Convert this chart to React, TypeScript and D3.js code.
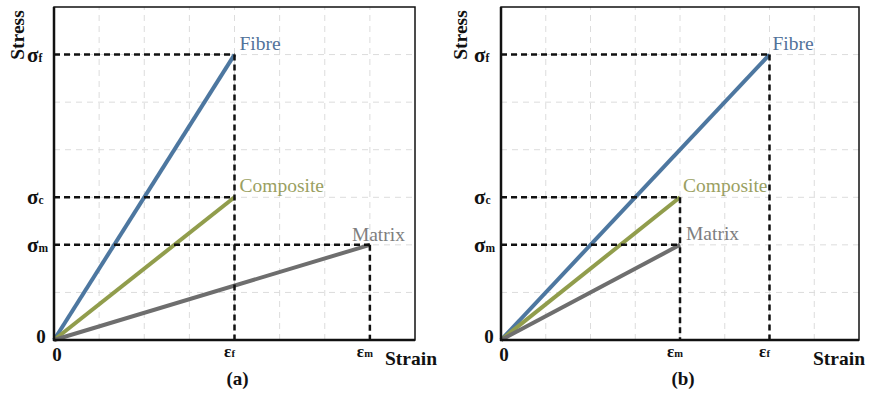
import React from "react";
import * as d3 from "d3";

// Grid extent (strain units × stress units)
const xGridMax = 8;
const yGridMax = 7;

// Panel (a): fibre fails first
const seriesA = [
  { name: "Fibre", strain: 4, stress: 6 },
  { name: "Composite", strain: 4, stress: 3 },
  { name: "Matrix", strain: 7, stress: 2 },
];
// Panel (b): matrix fails first
const seriesB = [
  { name: "Fibre", strain: 6, stress: 6 },
  { name: "Composite", strain: 4, stress: 3 },
  { name: "Matrix", strain: 4, stress: 2 },
];

// Stress ticks
const yTicksA = [
  { sub: "f", value: 6 },
  { sub: "c", value: 3 },
  { sub: "m", value: 2 },
];
const yTicksB = yTicksA;
// Strain ticks
const xTicksA = [
  { sub: "f", value: 4 },
  { sub: "m", value: 7 },
];
const xTicksB = [
  { sub: "m", value: 4 },
  { sub: "f", value: 6 },
];

// Dashed guide lines: horizontal from the axis, vertical down from the point
const guidesA = [
  { strain: 4, stress: 6, vertical: true },
  { strain: 4, stress: 3, vertical: false },
  { strain: 7, stress: 2, vertical: true },
];
const guidesB = [
  { strain: 6, stress: 6, vertical: true },
  { strain: 4, stress: 3, vertical: true },
  { strain: 4, stress: 2, vertical: false },
];

const lineColor: Record<string, string> = {
  Fibre: "#4d77a0",
  Composite: "#919d4c",
  Matrix: "#6e6e6e",
};
const textColor: Record<string, string> = {
  Fibre: "#52739a",
  Composite: "#9a9f62",
  Matrix: "#7e7e7e",
};

const FONT = "'Liberation Serif', 'Times New Roman', serif";

type Series = { name: string; strain: number; stress: number };
type Tick = { sub: string; value: number };
type Guide = { strain: number; stress: number; vertical: boolean };
type LabelPos = Record<string, { dx: number; dy: number }>;

function Panel(props: {
  left: number;
  right: number;
  top: number;
  bottom: number;
  series: Series[];
  yTicks: Tick[];
  xTicks: Tick[];
  guides: Guide[];
  labelPos: LabelPos;
  caption: string;
  stressX: number;
  strainX: number;
  yZeroX: number;
}) {
  const { left, right, top, bottom, series, yTicks, xTicks, guides, labelPos } = props;
  const x = d3.scaleLinear().domain([0, xGridMax]).range([left, right]);
  const y = d3.scaleLinear().domain([0, yGridMax]).range([bottom, top]);
  const line = d3
    .line<[number, number]>()
    .x((d) => x(d[0]))
    .y((d) => y(d[1]));

  return (
    <g>
      {/* grid */}
      {d3.range(1, xGridMax).map((v) => (
        <line
          key={"gx" + v}
          x1={x(v)}
          x2={x(v)}
          y1={y(0)}
          y2={y(yGridMax)}
          stroke="#dcdcdc"
          strokeWidth={1}
          strokeDasharray="6 5"
        />
      ))}
      {d3.range(1, yGridMax).map((v) => (
        <line
          key={"gy" + v}
          x1={x(0)}
          x2={x(xGridMax)}
          y1={y(v)}
          y2={y(v)}
          stroke="#dcdcdc"
          strokeWidth={1}
          strokeDasharray="6 5"
        />
      ))}

      {/* curves */}
      {series.map((s) => (
        <path
          key={s.name}
          d={line([
            [0, 0],
            [s.strain, s.stress],
          ]) as string}
          stroke={lineColor[s.name]}
          strokeWidth={4}
          fill="none"
          strokeLinecap="butt"
        />
      ))}

      {/* guides */}
      {guides.map((g, i) => (
        <g key={"g" + i}>
          <line
            x1={x(0)}
            x2={x(g.strain)}
            y1={y(g.stress)}
            y2={y(g.stress)}
            stroke="#111"
            strokeWidth={2.5}
            strokeDasharray="6 4"
          />
          {g.vertical && (
            <line
              x1={x(g.strain)}
              x2={x(g.strain)}
              y1={y(g.stress)}
              y2={y(0)}
              stroke="#111"
              strokeWidth={2.5}
              strokeDasharray="6 4"
            />
          )}
        </g>
      ))}

      {/* frame */}
      <rect
        x={left}
        y={top}
        width={right - left}
        height={bottom - top}
        fill="none"
        stroke="#111"
        strokeWidth={1.5}
      />
      <line x1={left} x2={left} y1={top} y2={bottom + 1} stroke="#111" strokeWidth={2.5} />
      <line x1={left - 1} x2={right} y1={bottom} y2={bottom} stroke="#111" strokeWidth={2.5} />

      {/* series names */}
      {series.map((s) => (
        <text
          key={"l" + s.name}
          x={x(s.strain) + labelPos[s.name].dx}
          y={y(s.stress) + labelPos[s.name].dy}
          fill={textColor[s.name]}
          fontFamily={FONT}
          fontSize={19.5}
        >
          {s.name}
        </text>
      ))}

      {/* stress ticks */}
      {yTicks.map((t) => (
        <text
          key={"yt" + t.sub}
          x={left - 27}
          y={y(t.value) + 7}
          fontFamily={FONT}
          fontWeight="bold"
          fill="#111"
        >
          <tspan fontSize={21}>σ</tspan>
          <tspan fontSize={11.5}>{t.sub}</tspan>
        </text>
      ))}
      <text
        x={props.yZeroX}
        y={y(0) + 3}
        textAnchor="middle"
        fontFamily={FONT}
        fontWeight="bold"
        fontSize={19}
        fill="#111"
      >
        0
      </text>

      {/* strain ticks */}
      {xTicks.map((t) => (
        <text
          key={"xt" + t.sub}
          x={x(t.value) - 5}
          y={y(0) + 17}
          textAnchor="middle"
          fontFamily={FONT}
          fontWeight="bold"
          fill="#111"
        >
          <tspan fontSize={17}>ε</tspan>
          <tspan fontSize={10.5}>{t.sub}</tspan>
        </text>
      ))}
      <text
        x={x(0) + 3}
        y={y(0) + 21}
        textAnchor="middle"
        fontFamily={FONT}
        fontWeight="bold"
        fontSize={19}
        fill="#111"
      >
        0
      </text>

      {/* axis titles */}
      <text
        transform={`translate(${props.stressX},${top + 28}) rotate(-90)`}
        textAnchor="middle"
        fontFamily={FONT}
        fontWeight="bold"
        fontSize={19.5}
        fill="#111"
      >
        Stress
      </text>
      <text
        x={props.strainX}
        y={bottom + 25}
        fontFamily={FONT}
        fontWeight="bold"
        fontSize={19.5}
        fill="#111"
      >
        Strain
      </text>

      {/* caption */}
      <text
        x={(left + right) / 2 + 3}
        y={bottom + 45}
        textAnchor="middle"
        fontFamily={FONT}
        fontWeight="bold"
        fontSize={19}
        fill="#111"
      >
        {props.caption}
      </text>
    </g>
  );
}

export default function App() {
  return (
    <svg
      width={869}
      height={393}
      style={{ position: "absolute", left: 0, top: 0, background: "#fff" }}
    >
      <rect width={869} height={393} fill="#fff" />
      <Panel
        left={54}
        right={415}
        top={7}
        bottom={340}
        series={seriesA}
        yTicks={yTicksA}
        xTicks={xTicksA}
        guides={guidesA}
        labelPos={{
          Fibre: { dx: 5, dy: -5 },
          Composite: { dx: 5, dy: -5 },
          Matrix: { dx: -18, dy: -4 },
        }}
        caption="(a)"
        stressX={24}
        strainX={385}
        yZeroX={41}
      />
      <Panel
        left={501}
        right={859}
        top={7}
        bottom={340}
        series={seriesB}
        yTicks={yTicksB}
        xTicks={xTicksB}
        guides={guidesB}
        labelPos={{
          Fibre: { dx: 3, dy: -5 },
          Composite: { dx: 3, dy: -5 },
          Matrix: { dx: 6, dy: -5 },
        }}
        caption="(b)"
        stressX={467}
        strainX={813}
        yZeroX={489}
      />
    </svg>
  );
}
